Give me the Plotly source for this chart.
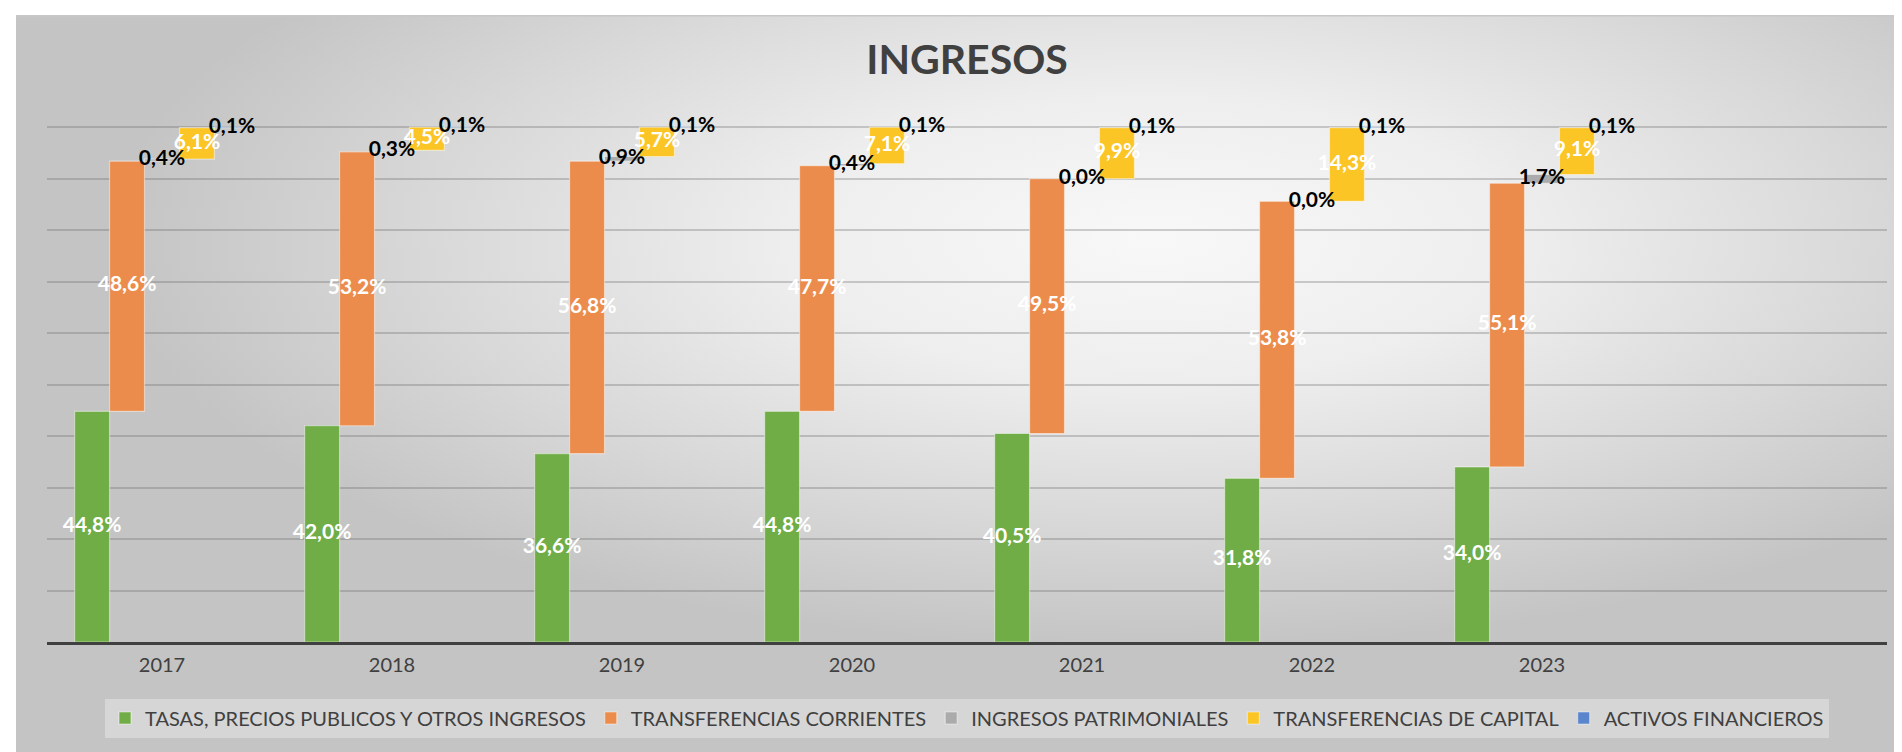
import base64
import plotly.graph_objects as go

# ---- data ----
years = ["2017", "2018", "2019", "2020", "2021", "2022", "2023"]
series_names = [
    "TASAS, PRECIOS PUBLICOS Y OTROS INGRESOS",
    "TRANSFERENCIAS CORRIENTES",
    "INGRESOS PATRIMONIALES",
    "TRANSFERENCIAS DE CAPITAL",
    "ACTIVOS FINANCIEROS",
]
tasas = [44.8, 42.0, 36.6, 44.8, 40.5, 31.8, 34.0]
transf_corrientes = [48.6, 53.2, 56.8, 47.7, 49.5, 53.8, 55.1]
ingresos_patrimoniales = [0.4, 0.3, 0.9, 0.4, 0.0, 0.0, 1.7]
transf_capital = [6.1, 4.5, 5.7, 7.1, 9.9, 14.3, 9.1]
activos_financieros = [0.1, 0.1, 0.1, 0.1, 0.1, 0.1, 0.1]

# ---- style ----
colors = ["#70AD47", "#EC8C4C", "#ABABAB", "#FCC526", "#5B86CE"]
label_colors = ["white", "white", "black", "white", "black"]
FONT = "Lato"
bar_w = 0.152
offsets = [-2 * bar_w, -bar_w, 0.0, bar_w, 2 * bar_w]
Y_MAX = 101.0

series = [tasas, transf_corrientes, ingresos_patrimoniales, transf_capital, activos_financieros]
idx = list(range(len(years)))

fig = go.Figure()

# cumulative bases (waterfall style)
bases = []
running = [0.0] * len(years)
for vals in series:
    bases.append(running[:])
    running = [r + v for r, v in zip(running, vals)]

for k, (name, vals) in enumerate(zip(series_names, series)):
    fig.add_trace(go.Bar(
        name=name,
        x=idx,
        y=vals,
        base=bases[k],
        offset=offsets[k] - bar_w / 2,
        width=bar_w,
        marker=dict(color=colors[k], line=dict(color="rgba(255,255,255,0.45)", width=1.2)),
        hoverinfo="skip",
    ))

for k, vals in enumerate(series):
    fig.add_trace(go.Scatter(
        x=[i + offsets[k] for i in idx],
        y=[b + v / 2 for b, v in zip(bases[k], vals)],
        mode="text",
        text=[f"{v:.1f}".replace(".", ",") + "%" for v in vals],
        textposition="middle center",
        textfont=dict(family=FONT, size=21, color=label_colors[k], weight="bold"),
        showlegend=False,
        hoverinfo="skip",
        cliponaxis=False,
    ))

# background radial gradient as an SVG image
W, H = 1894, 745
svg = f'''<svg xmlns="http://www.w3.org/2000/svg" width="{W}" height="{H}">
<defs><radialGradient id="g" cx="0.6" cy="0.3" r="0.55">
<stop offset="0" stop-color="#f8f8f8"/>
<stop offset="0.35" stop-color="#eeeeee"/>
<stop offset="0.7" stop-color="#d8d8d8"/>
<stop offset="1" stop-color="#c4c4c4"/>
</radialGradient></defs>
<rect x="0" y="0" width="{W}" height="{H}" fill="url(#g)"/>
<rect x="0" y="0" width="{W}" height="1.5" fill="#c8c8c8"/>
</svg>'''
src = "data:image/svg+xml;base64," + base64.b64encode(svg.encode()).decode()

ML, MR, MB = 39, 23, 118
PX_PER_UNIT = 5.15
PH = round(Y_MAX * PX_PER_UNIT)
MT = 752 - MB - PH
PW = 1902 - ML - MR

fig.add_layout_image(dict(
    source=src, xref="paper", yref="paper",
    x=(8 - ML) / PW, y=(752 - MB - 7) / PH,
    sizex=W / PW, sizey=H / PH,
    xanchor="left", yanchor="top", sizing="stretch", layer="below",
))

fig.update_layout(
    width=1902, height=752,
    margin=dict(l=ML, r=MR, t=MT, b=MB),
    paper_bgcolor="white",
    plot_bgcolor="rgba(0,0,0,0)",
    barmode="overlay",
    title=dict(text="INGRESOS", x=0.5, xref="paper", xanchor="center",
               y=1 - 51.5 / 752, yref="container", yanchor="middle",
               font=dict(family=FONT, size=41, color="#404040", weight="bold")),
    font=dict(family=FONT, color="#404040"),
    xaxis=dict(
        range=[-0.5, 7.5], tickvals=idx, ticktext=years, showgrid=False, zeroline=False,
        showline=True, linecolor="#404040", linewidth=3, ticks="",
        tickfont=dict(family=FONT, size=20, color="#404040"), ticklabelstandoff=3,
    ),
    yaxis=dict(
        range=[0, Y_MAX], dtick=10, showgrid=True, gridcolor="rgba(100,100,100,0.3)", gridwidth=1.5,
        showticklabels=False, zeroline=False, showline=False,
    ),
    legend=dict(
        orientation="h", x=0.5, xanchor="center", y=(634 - 710) / PH, yanchor="middle",
        bgcolor="rgba(255,255,255,0.3)", font=dict(family=FONT, size=20, color="#404040"),
        itemwidth=30, traceorder="normal",
    ),
    showlegend=True,
)

fig.write_html("out.html")
